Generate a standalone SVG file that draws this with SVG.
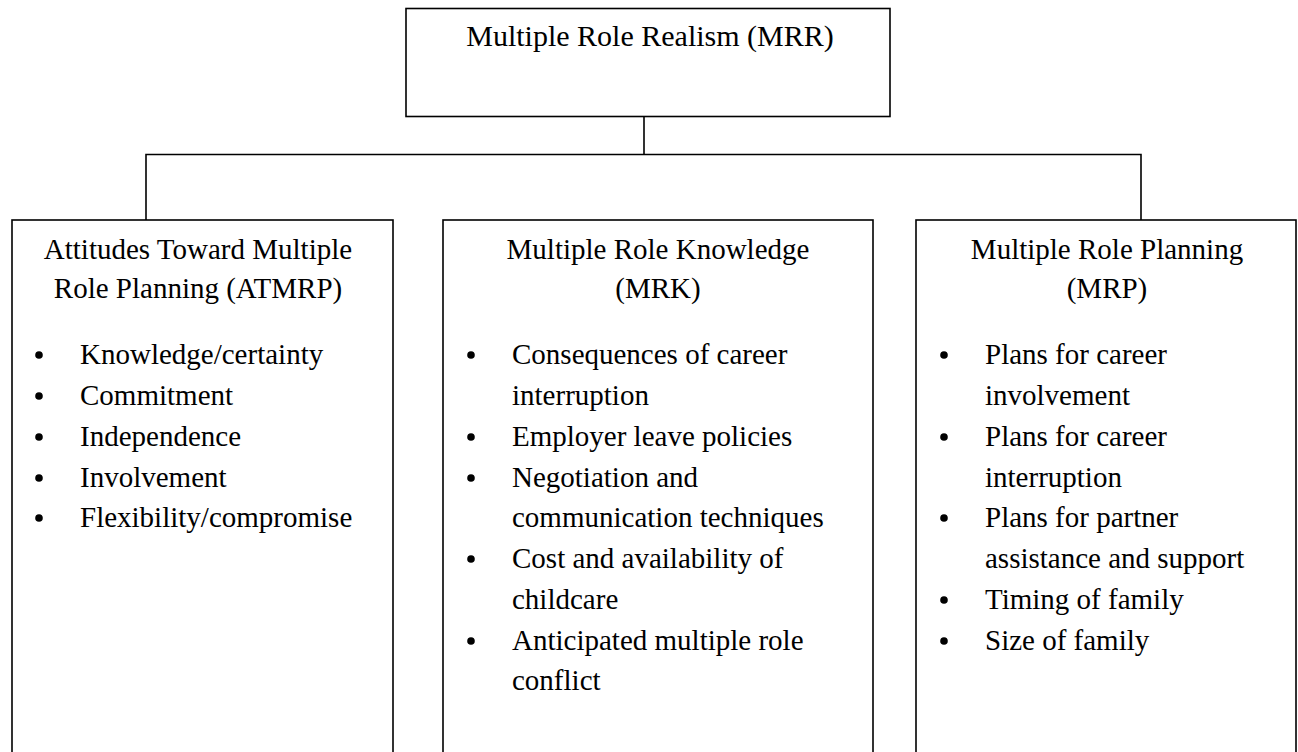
<svg xmlns="http://www.w3.org/2000/svg" width="1298" height="752" viewBox="0 0 1298 752">
<style>
.box{fill:#fff;stroke:#000;stroke-width:1.6}
.conn{fill:none;stroke:#000;stroke-width:1.6}
text{font-family:"Liberation Serif","Times New Roman",serif;font-size:29px;fill:#000}
.c{text-anchor:middle}
.dot{fill:#000}
</style>
<rect width="1298" height="752" fill="#fff"/>
<g id="connectors">
<path class="conn" d="M644 116 V154.5 M146 220 V154.5 H1141 V220"/>
</g>
<g id="mrr">
<rect class="box" x="406" y="8.5" width="484" height="108"/>
<text class="c" x="650" y="46" style="font-size:30px">Multiple Role Realism (MRR)</text>
</g>
<g id="atmrp">
<rect class="box" x="12" y="220" width="381" height="545"/>
<text class="c" x="198" y="259">Attitudes Toward Multiple</text>
<text class="c" x="198" y="298">Role Planning (ATMRP)</text>
<circle class="dot" cx="39" cy="355" r="3.8"/>
<text x="80" y="364">Knowledge/certainty</text>
<circle class="dot" cx="39" cy="396" r="3.8"/>
<text x="80" y="405">Commitment</text>
<circle class="dot" cx="39" cy="437" r="3.8"/>
<text x="80" y="446">Independence</text>
<circle class="dot" cx="39" cy="478" r="3.8"/>
<text x="80" y="487">Involvement</text>
<circle class="dot" cx="39" cy="518" r="3.8"/>
<text x="80" y="527">Flexibility/compromise</text>
</g>
<g id="mrk">
<rect class="box" x="443" y="220" width="430" height="545"/>
<text class="c" x="658" y="259">Multiple Role Knowledge</text>
<text class="c" x="658" y="298">(MRK)</text>
<circle class="dot" cx="471" cy="355" r="3.8"/>
<text x="512" y="364">Consequences of career</text>
<text x="512" y="405">interruption</text>
<circle class="dot" cx="471" cy="437" r="3.8"/>
<text x="512" y="446">Employer leave policies</text>
<circle class="dot" cx="471" cy="478" r="3.8"/>
<text x="512" y="487">Negotiation and</text>
<text x="512" y="527">communication techniques</text>
<circle class="dot" cx="471" cy="559" r="3.8"/>
<text x="512" y="568">Cost and availability of</text>
<text x="512" y="609">childcare</text>
<circle class="dot" cx="471" cy="641" r="3.8"/>
<text x="512" y="650">Anticipated multiple role</text>
<text x="512" y="690">conflict</text>
</g>
<g id="mrp">
<rect class="box" x="916" y="220" width="380" height="545"/>
<text class="c" x="1107" y="259">Multiple Role Planning</text>
<text class="c" x="1107" y="298">(MRP)</text>
<circle class="dot" cx="944" cy="355" r="3.8"/>
<text x="985" y="364">Plans for career</text>
<text x="985" y="405">involvement</text>
<circle class="dot" cx="944" cy="437" r="3.8"/>
<text x="985" y="446">Plans for career</text>
<text x="985" y="487">interruption</text>
<circle class="dot" cx="944" cy="518" r="3.8"/>
<text x="985" y="527">Plans for partner</text>
<text x="985" y="568">assistance and support</text>
<circle class="dot" cx="944" cy="600" r="3.8"/>
<text x="985" y="609">Timing of family</text>
<circle class="dot" cx="944" cy="641" r="3.8"/>
<text x="985" y="650">Size of family</text>
</g>
</svg>
